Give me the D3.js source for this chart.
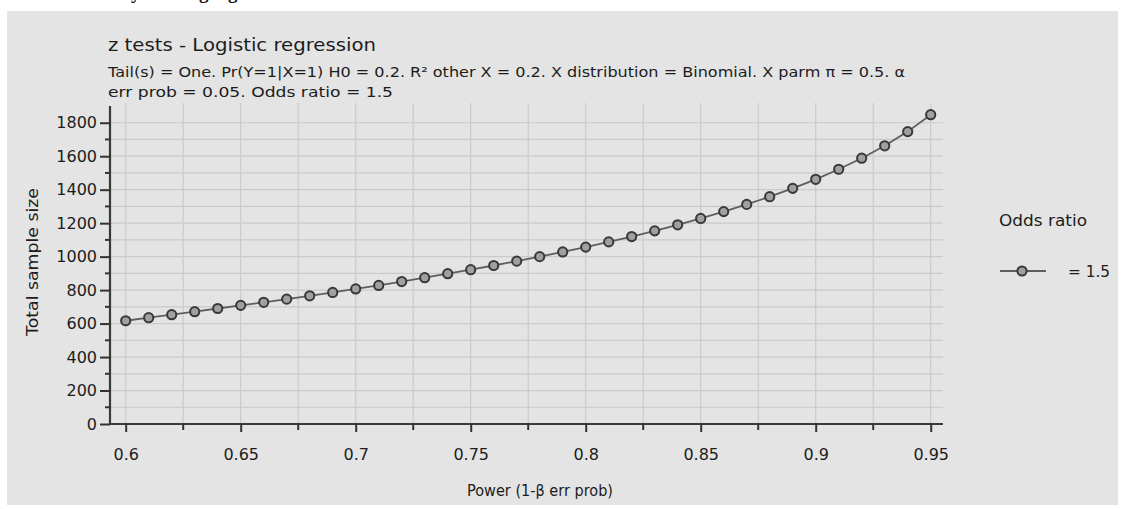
<!DOCTYPE html>
<html>
<head>
<meta charset="utf-8">
<script src="https://cdn.jsdelivr.net/npm/d3@7"></script>
<style>
  body { margin: 0; background: #fff; }
  svg { display: block; font-family: "DejaVu Sans", "Liberation Sans", sans-serif; }
</style>
</head>
<body>
<svg id="chart" width="1124" height="509"></svg>
<script>
// power (1 - beta) and total sample size
const power = [0.60, 0.61, 0.62, 0.63, 0.64, 0.65, 0.66, 0.67, 0.68, 0.69,
  0.70, 0.71, 0.72, 0.73, 0.74, 0.75, 0.76, 0.77, 0.78, 0.79,
  0.80, 0.81, 0.82, 0.83, 0.84, 0.85, 0.86, 0.87, 0.88, 0.89,
  0.90, 0.91, 0.92, 0.93, 0.94, 0.95];
const sampleSize = [617, 635, 653, 671, 690, 709, 727, 746, 766, 786,
  807, 828, 851, 874, 898, 922, 947, 973, 1000, 1028,
  1057, 1088, 1120, 1154, 1190, 1228, 1269, 1312, 1358, 1408,
  1462, 1522, 1588, 1662, 1747, 1848];
const xTicks = [0.6, 0.65, 0.7, 0.75, 0.8, 0.85, 0.9, 0.95];
const yTicks = [0, 200, 400, 600, 800, 1000, 1200, 1400, 1600, 1800];
const legendLabel = '= 1.5';

// plot frame
const frameLeft = 110, frameRight = 943, frameBottom = 424, frameTop = 106;
const ink = '#1c1c1c';

const svg = d3.select('#chart');

// page heading, cut off at the top of the picture
svg.append('text')
  .attr('x', 40)
  .attr('y', -1)
  .style('font-family', '"Liberation Serif", serif')
  .style('font-weight', 'bold')
  .style('font-size', '19px')
  .attr('fill', '#111')
  .text('Power analysis using logit');

// grey panel
svg.append('rect')
  .attr('x', 7).attr('y', 11)
  .attr('width', 1111).attr('height', 494)
  .attr('fill', '#e4e4e4');

const x = d3.scaleLinear().domain([0.6, 0.95]).range([125.7, 930.7]);
const y = d3.scaleLinear().domain([0, 1900]).range([frameBottom, frameTop]);

// grid
const gridX = d3.range(0.6, 0.9501, 0.025);
const gridY = d3.range(100, 1801, 100);
svg.append('g')
  .selectAll('line')
  .data(gridY)
  .join('line')
  .attr('x1', frameLeft).attr('x2', frameRight)
  .attr('y1', d => y(d)).attr('y2', d => y(d))
  .attr('stroke', '#cacaca').attr('stroke-width', 1.2);
svg.append('g')
  .selectAll('line')
  .data(gridX)
  .join('line')
  .attr('x1', d => x(d)).attr('x2', d => x(d))
  .attr('y1', frameTop - 3).attr('y2', frameBottom)
  .attr('stroke', '#cacaca').attr('stroke-width', 1.2);

// axes
const xAxis = svg.append('g')
  .attr('transform', `translate(0,${frameBottom})`)
  .call(d3.axisBottom(x).tickValues(xTicks).tickSize(8).tickSizeOuter(0).tickPadding(17)
    .tickFormat(d => String(+d.toFixed(2))));
// minor x ticks
xAxis.append('g')
  .selectAll('line')
  .data(gridX.filter((d, i) => i % 2 === 1))
  .join('line')
  .attr('x1', d => x(d)).attr('x2', d => x(d))
  .attr('y1', 0).attr('y2', 6)
  .attr('stroke', '#333').attr('stroke-width', 2);

const yAxis = svg.append('g')
  .attr('transform', `translate(${frameLeft},0)`)
  .call(d3.axisLeft(y).tickValues(yTicks).tickSize(10).tickSizeOuter(0).tickPadding(3)
    .tickFormat(d3.format('d')));
yAxis.append('g')
  .selectAll('line')
  .data(d3.range(100, 1801, 200))
  .join('line')
  .attr('x1', -5).attr('x2', 0)
  .attr('y1', d => y(d)).attr('y2', d => y(d))
  .attr('stroke', '#333').attr('stroke-width', 2);

// axis lines span the whole frame
xAxis.select('.domain').attr('d', `M${frameLeft},0H${frameRight}`);
yAxis.select('.domain').attr('d', `M0,${frameTop}V${frameBottom}`);

[xAxis, yAxis].forEach(a => {
  a.select('.domain').attr('stroke', '#3a3a3a').attr('stroke-width', 2.2);
  a.selectAll('.tick line').attr('stroke', '#333').attr('stroke-width', 2);
  a.selectAll('.tick text')
    .attr('fill', ink)
    .style('font-size', '16px')
    .style('font-family', '"DejaVu Sans", sans-serif');
});

// curve
const pts = power.map((p, i) => ({ p, n: sampleSize[i] }));
svg.append('path')
  .datum(pts)
  .attr('fill', 'none')
  .attr('stroke', '#5e5e5e')
  .attr('stroke-width', 1.8)
  .attr('d', d3.line().x(d => x(d.p)).y(d => y(d.n)));
svg.append('g')
  .selectAll('circle')
  .data(pts)
  .join('circle')
  .attr('cx', d => x(d.p))
  .attr('cy', d => y(d.n))
  .attr('r', 4.6)
  .attr('fill', '#a0a0a0')
  .attr('stroke', '#383838')
  .attr('stroke-width', 2);

// text helper: size and width measured on the reference
function label(px, py, str, size, width, anchor) {
  return svg.append('text')
    .attr('x', px).attr('y', py)
    .attr('text-anchor', anchor || 'start')
    .attr('textLength', width)
    .attr('lengthAdjust', 'spacingAndGlyphs')
    .style('font-size', size + 'px')
    .attr('fill', ink)
    .text(str);
}

label(108, 51, 'z tests - Logistic regression', 18, 268);
label(108, 77, 'Tail(s) = One. Pr(Y=1|X=1) H0 = 0.2. R² other X = 0.2. X distribution = Binomial. X parm π = 0.5. α', 14, 797);
label(108, 97, 'err prob = 0.05. Odds ratio = 1.5', 14, 285);

label(0, 0, 'Total sample size', 15, 148, 'middle')
  .attr('x', null).attr('y', null)
  .attr('transform', 'translate(38,262) rotate(-90)');
label(540, 496, 'Power (1-β err prob)', 15, 146, 'middle');

// legend
label(999, 226, 'Odds ratio', 15, 88);
const lg = svg.append('g').attr('transform', 'translate(1000,271)');
lg.append('line')
  .attr('x1', 0).attr('x2', 46)
  .attr('stroke', '#5e5e5e').attr('stroke-width', 1.8);
lg.append('circle')
  .attr('cx', 22).attr('r', 4.6)
  .attr('fill', '#a0a0a0').attr('stroke', '#383838').attr('stroke-width', 2);
label(1068, 277, legendLabel, 15, 42);
</script>
</body>
</html>
